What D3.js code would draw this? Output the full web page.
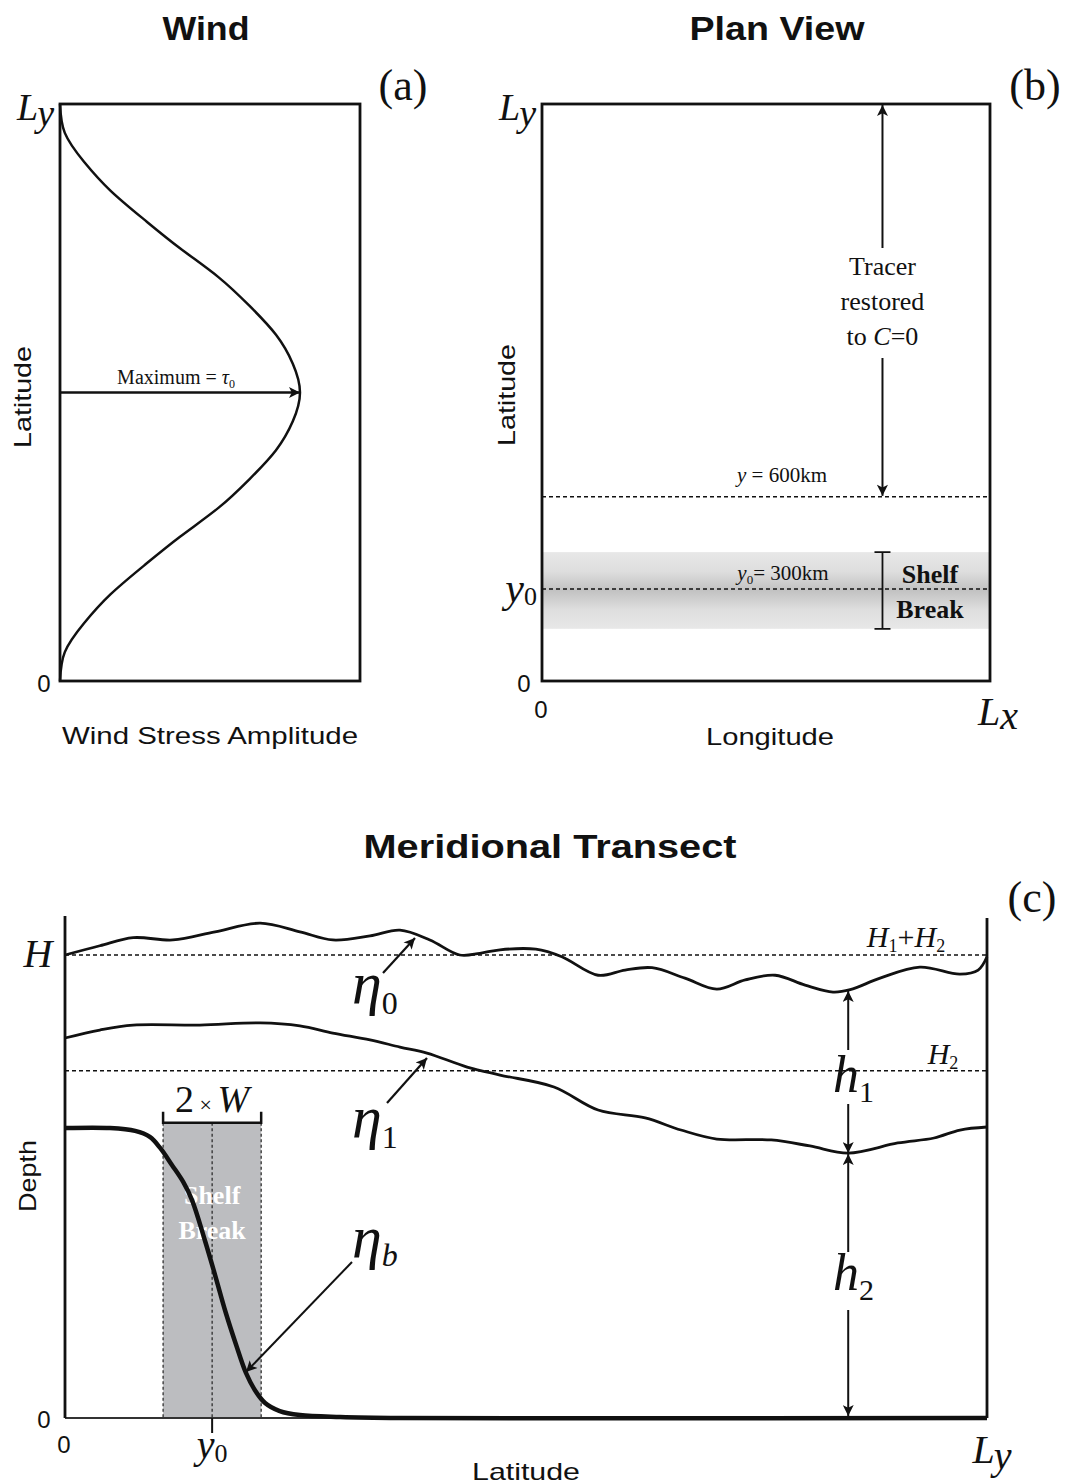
<!DOCTYPE html>
<html><head><meta charset="utf-8">
<script src="https://cdn.jsdelivr.net/npm/d3@7"></script>
<style>body{margin:0;background:#fff}</style>
</head><body><svg id="c" width="1067" height="1484" xmlns="http://www.w3.org/2000/svg"></svg>
<script>
// ---------------- data ----------------
const Ly = 1880;          // km, meridional extent
const Lx = 1500;          // km, zonal extent
const y0 = 300;           // km, shelf-break latitude
const y600 = 600;         // km, tracer restoring boundary
const W = 100;            // km, shelf-break half width
const H = 4000;           // m, H1+H2
const H2 = 3000;          // m
const shelfBand = [170, 420]; // km, shaded shelf break (plan view)

// (a) wind stress amplitude (units of tau0) vs latitude (km)
const windLat = [0,94,188,282,376,470,564,658,752,846,940,1034,1128,1222,1316,1410,1504,1598,1692,1786,1880];
const windAmp = [0,0.02,0.10,0.21,0.35,0.50,0.66,0.79,0.90,0.97,1.00,0.97,0.90,0.79,0.66,0.50,0.35,0.21,0.10,0.02,0];

// (c) interfaces: latitude (km) and height above bottom (m)
const eta0Lat = [0,71,139,220,306,398,479,546,622,683,744,805,846,887,960,1013,1087,1142,1197,1264,1329,1387,1448,1509,1566,1601,1662,1743,1825,1862,1880];
const eta0Val = [4000,4080,4150,4130,4200,4275,4200,4130,4165,4215,4130,4000,4015,4045,4050,3985,3825,3870,3890,3800,3705,3785,3825,3740,3680,3700,3800,3895,3835,3870,3985];
const eta1Lat = [0,71,139,275,398,479,546,622,683,738,820,887,997,1087,1183,1256,1329,1440,1519,1597,1698,1772,1825,1880];
const eta1Val = [3283,3352,3395,3395,3413,3387,3326,3266,3205,3153,3032,2963,2860,2661,2592,2488,2410,2402,2350,2289,2376,2419,2488,2514];
const etabLat = [0,92,143,173,194,218,241,259,285,306,328,349,369,387,408,438,479,561,683,1880];
const etabVal = [2505,2505,2480,2428,2333,2186,2039,1883,1538,1235,907,631,389,242,130,60,26,9,0,0];

// ---------------- setup ----------------
const SERIF = "'Liberation Serif','Times New Roman',serif";
const SANS = "'Liberation Sans','DejaVu Sans',sans-serif";
const svg = d3.select('#c');

const defs = svg.append('defs');
defs.append('marker').attr('id','ah').attr('viewBox','0 0 10 10')
  .attr('refX',10).attr('refY',5).attr('markerUnits','userSpaceOnUse')
  .attr('markerWidth',16).attr('markerHeight',11).attr('orient','auto')
  .append('path').attr('d','M0,0 L10,5 L0,10 L2.5,5 Z').attr('fill','#111');
const grad = defs.append('linearGradient').attr('id','band').attr('x1',0).attr('x2',0).attr('y1',0).attr('y2',1);
[[0,'#e8e8e8'],[0.25,'#dedede'],[0.5,'#c2c2c2'],[0.75,'#dedede'],[1,'#e8e8e8']].forEach(([o,c])=>
  grad.append('stop').attr('offset',o).attr('stop-color',c));

function arrow(x1,y1,x2,y2,w){
  svg.append('line').attr('x1',x1).attr('y1',y1).attr('x2',x2).attr('y2',y2)
    .attr('stroke','#111').attr('stroke-width',w||2).attr('marker-end','url(#ah)');
}
function label(x,y,parts,opts){
  opts = opts||{};
  const t = svg.append('text').attr('x',x).attr('y',y)
    .attr('text-anchor',opts.anchor||'middle')
    .attr('font-family',opts.family||SERIF).attr('font-size',opts.size||24)
    .attr('fill',opts.fill||'#111');
  if (opts.weight) t.attr('font-weight',opts.weight);
  if (opts.rotate) t.attr('transform',`rotate(${opts.rotate},${x},${y})`);
  if (opts.len) t.attr('textLength',opts.len).attr('lengthAdjust','spacingAndGlyphs');
  if (typeof parts === 'string') { t.text(parts); return t; }
  parts.forEach(p=>{
    const s = t.append('tspan').text(p.t);
    if (p.i) s.attr('font-style','italic');
    if (p.s) s.attr('font-size',p.s);
    if (p.dy) s.attr('dy',p.dy);
    if (p.dx) s.attr('dx',p.dx);
    if (p.f) s.attr('font-family',p.f);
  });
  return t;
}
const titleOpts = {family:SANS, size:34, weight:'bold'};

// ================= (a) Wind =================
const xA = d3.scaleLinear().domain([0,1.25]).range([60,360]);
const yA = d3.scaleLinear().domain([0,Ly]).range([681,104]);
label(206,40,'Wind',Object.assign({len:87},titleOpts));
label(403,100,'(a)',{size:44});
svg.append('path').datum(d3.range(windLat.length))
  .attr('d',d3.line().x(i=>xA(windAmp[i])).y(i=>yA(windLat[i])).curve(d3.curveNatural))
  .attr('fill','none').attr('stroke','#111').attr('stroke-width',2.5);
svg.append('rect').attr('x',xA(0)).attr('y',yA(Ly)).attr('width',xA(1.25)-xA(0)).attr('height',yA(0)-yA(Ly))
  .attr('fill','none').attr('stroke','#111').attr('stroke-width',2.8);
arrow(xA(0),yA(Ly/2),xA(1),yA(Ly/2),2.5);
label(176,384,[{t:'Maximum = '},{t:'τ',i:1},{t:'0',s:12,dy:4}],{size:20});
label(54,120,[{t:'L',i:1},{t:'y',i:1,dy:6}],{size:38,anchor:'end'});
label(44,692,'0',{family:SANS,size:24});
label(31,397,'Latitude',{family:SANS,size:24,rotate:-90,len:102});
label(210,744,'Wind Stress Amplitude',{family:SANS,size:24,len:296});

// ================= (b) Plan View =================
const xB = d3.scaleLinear().domain([0,Lx]).range([542,990]);
const yB = d3.scaleLinear().domain([0,Ly]).range([681,104]);
label(777,40,'Plan View',Object.assign({len:175},titleOpts));
label(1035,100,'(b)',{size:44});
svg.append('rect').attr('x',xB(0)).attr('y',yB(shelfBand[1])).attr('width',xB(Lx)-xB(0))
  .attr('height',yB(shelfBand[0])-yB(shelfBand[1])).attr('fill','url(#band)');
[y600,y0].forEach(v=>svg.append('line').attr('x1',xB(0)).attr('x2',xB(Lx)).attr('y1',yB(v)).attr('y2',yB(v))
  .attr('stroke','#111').attr('stroke-width',1.5).attr('stroke-dasharray','4,3'));
svg.append('rect').attr('x',xB(0)).attr('y',yB(Ly)).attr('width',xB(Lx)-xB(0)).attr('height',yB(0)-yB(Ly))
  .attr('fill','none').attr('stroke','#111').attr('stroke-width',2.8);
const xTr = xB(0.76*Lx);
arrow(xTr,248,xTr,yB(Ly)+1,2);
arrow(xTr,358,xTr,yB(y600)-1,2);
label(xTr,275,'Tracer',{size:26});
label(xTr,310,'restored',{size:26});
label(xTr,345,[{t:'to '},{t:'C',i:1},{t:'=0'}],{size:26});
label(782,482,[{t:'y',i:1},{t:' = 600km'}],{size:21});
label(783,580,[{t:'y',i:1},{t:'0',s:13,dy:4},{t:'= 300km',dy:-4}],{size:21});
const bt = yB(shelfBand[1]), bb = yB(shelfBand[0]);
svg.append('path').attr('d',`M${xTr},${bt}V${bb}M${xTr-8},${bt}H${xTr+8}M${xTr-8},${bb}H${xTr+8}`)
  .attr('stroke','#111').attr('stroke-width',1.8).attr('fill','none');
label(930,583,'Shelf',{size:26,weight:'bold'});
label(930,618,'Break',{size:26,weight:'bold'});
label(536,120,[{t:'L',i:1},{t:'y',i:1,dy:6}],{size:38,anchor:'end'});
label(537,602,[{t:'y',i:1},{t:'0',s:26,dy:3}],{size:42,anchor:'end'});
label(524,692,'0',{family:SANS,size:24});
label(541,718,'0',{family:SANS,size:24});
label(998,725,[{t:'L',i:1},{t:'x',i:1,dy:4}],{size:40});
label(770,745,'Longitude',{family:SANS,size:24,len:128});
label(515,395,'Latitude',{family:SANS,size:24,rotate:-90,len:102});

// ================= (c) Meridional Transect =================
const xC = d3.scaleLinear().domain([0,Ly]).range([65,987]);
const yC = d3.scaleLinear().domain([0,H]).range([1418,955]);
label(550,858,'Meridional Transect',Object.assign({len:373},titleOpts));
label(1032,912,'(c)',{size:44});
const bx0 = xC(y0-W), bx1 = xC(y0+W), btop = yC(2550);
svg.append('rect').attr('x',bx0).attr('y',btop).attr('width',bx1-bx0).attr('height',yC(0)-btop).attr('fill','#bcbdc0');
[y0-W,y0,y0+W].forEach(v=>svg.append('line').attr('x1',xC(v)).attr('x2',xC(v)).attr('y1',btop).attr('y2',yC(0))
  .attr('stroke','#222').attr('stroke-width',1.2).attr('stroke-dasharray','3,2.5'));
svg.append('path').attr('d',`M${bx0},${btop-11}V${btop}H${bx1}V${btop-11}`)
  .attr('stroke','#111').attr('stroke-width',2.5).attr('fill','none');
label(xC(y0),1112,[{t:'2'},{t:' × ',s:22},{t:'W',i:1}],{size:38});
label(xC(y0),1204,'Shelf',{size:26,weight:'bold',fill:'#fff'});
label(xC(y0),1239,'Break',{size:26,weight:'bold',fill:'#fff'});
[H,H2].forEach(v=>svg.append('line').attr('x1',xC(0)).attr('x2',xC(Ly)).attr('y1',yC(v)).attr('y2',yC(v))
  .attr('stroke','#111').attr('stroke-width',1.5).attr('stroke-dasharray','4,3'));
svg.append('line').attr('x1',xC(0)).attr('x2',xC(Ly)).attr('y1',yC(0)).attr('y2',yC(0)).attr('stroke','#333').attr('stroke-width',2);
svg.append('line').attr('x1',xC(0)).attr('x2',xC(0)).attr('y1',916).attr('y2',yC(0)).attr('stroke','#111').attr('stroke-width',2.8);
svg.append('line').attr('x1',xC(Ly)).attr('x2',xC(Ly)).attr('y1',918).attr('y2',yC(0)).attr('stroke','#111').attr('stroke-width',2.8);
svg.append('line').attr('x1',xC(y0)).attr('x2',xC(y0)).attr('y1',yC(0)).attr('y2',yC(0)+15).attr('stroke','#111').attr('stroke-width',2);
function iface(lat,val,w){
  svg.append('path').datum(d3.range(lat.length))
    .attr('d',d3.line().x(i=>xC(lat[i])).y(i=>yC(val[i])).curve(d3.curveCatmullRom))
    .attr('fill','none').attr('stroke','#111').attr('stroke-width',w).attr('stroke-linejoin','round');
}
iface(eta0Lat,eta0Val,2.8);
iface(eta1Lat,eta1Val,2.8);
iface(etabLat,etabVal,4.5);
label(38,967,[{t:'H',i:1}],{size:40});
label(44,1428,'0',{family:SANS,size:24});
label(64,1453,'0',{family:SANS,size:24});
label(xC(y0),1458,[{t:'y',i:1},{t:'0',s:26,dy:4}],{size:40});
label(992,1463,[{t:'L',i:1},{t:'y',i:1,dy:6}],{size:40});
label(526,1480,'Latitude',{family:SANS,size:24,len:108});
label(36,1176,'Depth',{family:SANS,size:24,rotate:-90,len:72});
label(906,947,[{t:'H',i:1},{t:'1',s:18,dy:5},{t:'+',dy:-5},{t:'H',i:1},{t:'2',s:18,dy:5}],{size:30});
label(943,1064,[{t:'H',i:1},{t:'2',s:18,dy:5}],{size:30});
label(352,1003,[{t:'η',i:1},{t:'0',s:32,dy:11}],{size:60,anchor:'start'});
arrow(383,973,415,938,2.2);
label(352,1137,[{t:'η',i:1},{t:'1',s:32,dy:11}],{size:60,anchor:'start'});
arrow(387,1103,427,1058,2.2);
label(352,1257,[{t:'η',i:1},{t:'b',i:1,s:32,dy:9}],{size:60,anchor:'start'});
arrow(352,1262,246,1372,2);
const latH = 1597;
const e0 = yC(3690), e1 = yC(2289);
arrow(xC(latH),1050,xC(latH),e0,2);
arrow(xC(latH),1104,xC(latH),e1,2);
arrow(xC(latH),1252,xC(latH),e1+1,2);
arrow(xC(latH),1310,xC(latH),yC(0)-2,2);
label(833,1092,[{t:'h',i:1},{t:'1',s:30,dy:10}],{size:52,anchor:'start'});
label(833,1290,[{t:'h',i:1},{t:'2',s:30,dy:10}],{size:52,anchor:'start'});
</script></body></html>
